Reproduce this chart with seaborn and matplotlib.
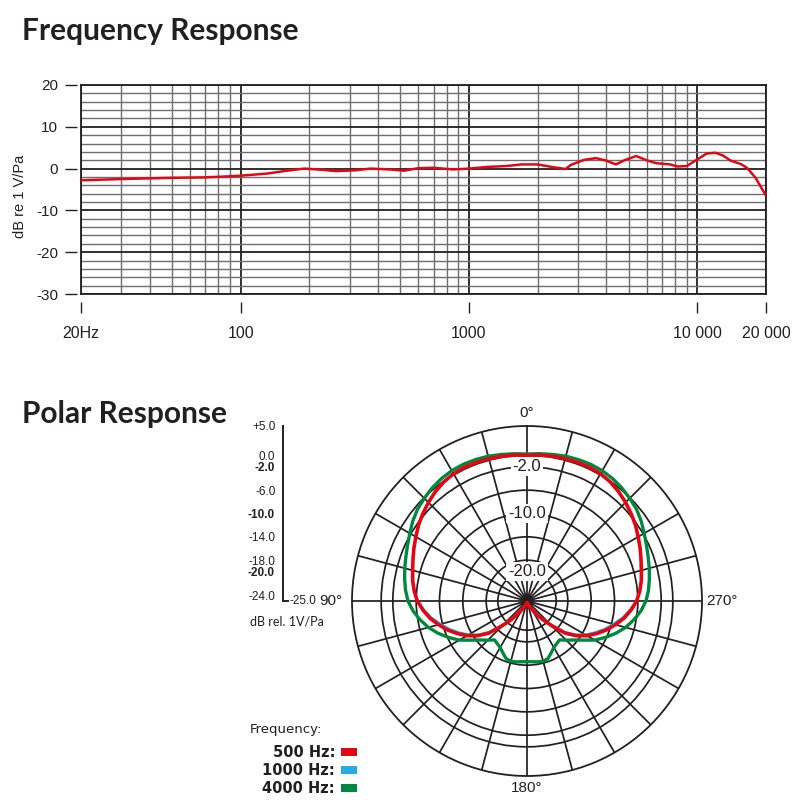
import numpy as np
import pandas as pd
import seaborn as sns
import matplotlib.pyplot as plt
from matplotlib.patches import Patch
from matplotlib.ticker import NullLocator

# ---- Frequency response ----
freq_hz = [20, 30, 50, 70, 85, 100, 130, 160, 190, 230, 260, 320, 370, 450, 520, 600, 700, 850,
           1000, 1200, 1450, 1700, 2000, 2300, 2650, 2800, 3200, 3600, 4000, 4400, 4800, 5400,
           6000, 6600, 7600, 8200, 9000, 10000, 11000, 12000, 13000, 14000, 15500, 16500,
           18000, 20000]
level_db = [-2.8, -2.5, -2.2, -2.1, -1.9, -1.7, -1.2, -0.5, 0.0, -0.3, -0.6, -0.4, 0.0, -0.2,
            -0.5, 0.1, 0.2, -0.2, 0.0, 0.4, 0.6, 1.0, 1.0, 0.4, -0.1, 0.9, 2.1, 2.5, 1.9, 1.0,
            2.0, 3.0, 2.0, 1.3, 1.0, 0.5, 0.6, 2.2, 3.6, 3.8, 3.1, 1.9, 1.1, 0.2, -2.2, -6.5]

freq_ticks = [20, 100, 1000, 10000, 20000]
freq_tick_labels = ["20Hz", "100", "1000", "10 000", "20 000"]
level_ticks = [20, 10, 0, -10, -20, -30]

# ---- Polar response, dB every 5 deg (0 deg on axis, counter-clockwise) ----
polar_angles = list(range(0, 361, 5))
resp_500 = [0.0, 0.1, 0.2, 0.25, 0.3, 0.3, 0.2, -0.1, -0.55, -1.1, -1.7, -2.3, -3.0, -3.6,
            -4.2, -4.7, -5.1, -5.6, -6.2, -7.1, -8.1, -9.3, -10.5, -11.8, -13.1, -14.6,
            -16.4, -19.0, -20.9, -22.4, -23.4, -24.0, -24.3, -24.5, -24.6, -24.7, -24.75,
            -24.7, -24.6, -24.5, -24.3, -24.0, -23.4, -22.4, -20.9, -19.0, -16.4, -14.6,
            -13.1, -11.8, -10.5, -9.3, -8.1, -7.1, -6.2, -5.6, -5.1, -4.7, -4.2, -3.6, -3.0,
            -2.3, -1.7, -1.1, -0.55, -0.1, 0.2, 0.3, 0.3, 0.25, 0.2, 0.1, 0.0]
resp_1000 = [0.0, 0.1, 0.2, 0.25, 0.3, 0.3, 0.2, -0.1, -0.55, -1.1, -1.7, -2.3, -3.0, -3.6,
             -4.2, -4.7, -5.1, -5.6, -6.2, -7.3, -8.4, -9.7, -10.9, -12.2, -13.5, -15.0,
             -16.9, -19.5, -21.3, -22.8, -23.7, -24.2, -24.5, -24.6, -24.7, -24.8, -24.8,
             -24.8, -24.7, -24.6, -24.5, -24.2, -23.7, -22.8, -21.3, -19.5, -16.9, -15.0,
             -13.5, -12.2, -10.9, -9.7, -8.4, -7.3, -6.2, -5.6, -5.1, -4.7, -4.2, -3.6, -3.0,
             -2.3, -1.7, -1.1, -0.55, -0.1, 0.2, 0.3, 0.3, 0.25, 0.2, 0.1, 0.0]
resp_4000 = [0.2, 0.35, 0.5, 0.7, 0.8, 0.85, 0.8, 0.6, 0.3, -0.1, -0.5, -1.1, -1.8, -2.4,
             -2.9, -3.3, -3.7, -4.1, -4.6, -5.4, -6.4, -7.5, -8.8, -10.2, -11.6, -13.3,
             -14.6, -15.5, -16.3, -16.1, -15.8, -15.2, -14.5, -14.3, -14.4, -14.55, -14.6,
             -14.55, -14.4, -14.3, -14.5, -15.2, -15.8, -16.1, -16.3, -15.5, -14.6, -13.3,
             -11.6, -10.2, -8.8, -7.5, -6.4, -5.4, -4.6, -4.1, -3.7, -3.3, -2.9, -2.4, -1.8,
             -1.1, -0.5, -0.1, 0.3, 0.6, 0.8, 0.85, 0.8, 0.7, 0.5, 0.35, 0.2]

series_labels = ["500 Hz:", "1000 Hz:", "4000 Hz:"]
series_colors = ["#e30613", "#29abe2", "#00893e"]
polar_rings = [0, -2, -6, -10, -14, -18, -20, -24]
angle_labels = ["0°", "90°", "180°", "270°"]
scale_bold = [-2, -10, -20]
scale_bold_labels = ["-2.0", "-10.0", "-20.0"]
scale_plain = [5, 0, -6, -14, -18, -24]
scale_plain_labels = ["+5.0", "0.0", "-6.0", "-14.0", "-18.0", "-24.0"]

INK = "#231f20"


def main():
    sns.set_theme(style="white")
    plt.rcParams["font.family"] = ["Liberation Sans", "DejaVu Sans"]
    plt.rcParams["text.color"] = INK
    plt.rcParams["axes.unicode_minus"] = False

    fig = plt.figure(figsize=(8, 8), dpi=100)
    W = H = 800.0

    # 1. Frequency response
    ax = fig.add_axes([81 / W, 1 - 294 / H, 685 / W, 209 / H])
    ax.set_xscale("log")
    fr = pd.DataFrame({"freq": freq_hz, "level": level_db})
    sns.lineplot(data=fr, x="freq", y="level", ax=ax, color=series_colors[0],
                 lw=1.8, estimator=None, sort=False, zorder=3)
    ax.set_xlim(20, 20000)
    ax.set_ylim(-30, 20)
    ax.set_xlabel("")
    ax.set_ylabel("")

    minor_x = [m * d for d in (10, 100, 1000) for m in range(2, 10) if 20 < m * d < 20000]
    minor_y = [v for v in range(-30, 21, 2) if v % 10 != 0]
    ax.set_xticks(freq_ticks)
    ax.set_xticks(minor_x, minor=True)
    ax.set_yticks(level_ticks)
    ax.set_yticks(minor_y, minor=True)
    ax.grid(which="major", color=INK, lw=1.3)
    ax.grid(which="minor", color="#6d6e71", lw=1.0)
    ax.tick_params(which="both", length=0, labelbottom=False, labelleft=False)
    for s in ax.spines.values():
        s.set_color(INK)
        s.set_linewidth(1.3)

    sx = ax.secondary_xaxis(-8 / 209)
    sx.set_xticks(freq_ticks, freq_tick_labels)
    sx.xaxis.set_minor_locator(NullLocator())
    sx.spines["bottom"].set_visible(False)
    sx.tick_params(length=8, width=1.0, color=INK, pad=9, labelsize=11.5, labelcolor=INK)

    sy = ax.secondary_yaxis(-4 / 685)
    sy.set_yticks(level_ticks)
    sy.yaxis.set_minor_locator(NullLocator())
    sy.spines["left"].set_visible(False)
    sy.tick_params(length=8.6, width=1.0, color=INK, pad=5, labelsize=11, labelcolor=INK)
    fig.text(20 / W, 1 - 196 / H, "dB re 1 V/Pa", rotation=90, ha="center", va="center",
             fontsize=10.5)

    # 2. Polar response
    pax = fig.add_axes([(527 - 175) / W, 1 - 776 / H, 350 / W, 350 / H], projection="polar")
    pax.set_theta_zero_location("N")
    pax.set_theta_direction(1)
    rad = np.deg2rad(polar_angles)
    for vals, col, lw in [(resp_4000, series_colors[2], 2.4),
                          (resp_1000, series_colors[1], 1.6),
                          (resp_500, series_colors[0], 2.6)]:
        sns.lineplot(x=rad, y=vals, ax=pax, color=col, lw=lw, estimator=None,
                     sort=False, zorder=4)
    pax.set_xlabel("")
    pax.set_ylabel("")
    pax.set_rlim(-25, 5)
    pax.set_rticks(polar_rings)
    pax.set_yticklabels([])
    pax.set_thetagrids(range(0, 360, 15), labels=[])
    pax.grid(True, color=INK, lw=1.25)
    pax.spines["polar"].set_color(INK)
    pax.spines["polar"].set_linewidth(1.3)
    offsets = [(0, 9.5), (-15, 0), (0, -8.6), (14.4, 0)]
    for ang, lab, off in zip((0, 90, 180, 270), angle_labels, offsets):
        pax.annotate(lab, xy=(np.deg2rad(ang), 5), xytext=off, textcoords="offset points",
                     ha="center", va="center", fontsize=11, annotation_clip=False)
    for v, lab in zip(scale_bold, scale_bold_labels):
        pax.text(0, v, lab, ha="center", va="center", fontsize=12, zorder=3,
                 bbox=dict(facecolor="white", edgecolor="none", pad=1.5))

    # 3. Level scale beside the polar plot
    sc = fig.add_axes([282.5 / W, 1 - 601 / H, 5 / W, 175 / H])
    sc.set_ylim(-25, 5)
    sc.set_xlim(0, 1)
    sc.set_facecolor("none")
    sc.spines["top"].set_visible(False)
    sc.spines["right"].set_visible(False)
    for s in ("left", "bottom"):
        sc.spines[s].set_color(INK)
        sc.spines[s].set_linewidth(1.4)
    sc.set_xticks([])
    sc.set_yticks(scale_bold, scale_bold_labels)
    sc.set_yticks(scale_plain, scale_plain_labels, minor=True)
    sc.tick_params(axis="y", which="major", direction="inout", length=8, width=1.4,
                   color=INK, labelsize=8.5, pad=1.5, labelcolor=INK)
    sc.tick_params(axis="y", which="minor", direction="out", length=3.6, width=1.2,
                   color=INK, labelsize=8.5, pad=1.5, labelcolor=INK)
    for t in sc.get_yticklabels():
        t.set_fontweight("bold")
    sc.annotate("-25.0", xy=(1, 0), xycoords="axes fraction", xytext=(1.5, 0),
                textcoords="offset points", ha="left", va="center", fontsize=8.5)
    fig.text(250 / W, 1 - 622 / H, "dB rel. 1V/Pa", ha="left", va="center",
             fontsize=9, family=["Lato", "DejaVu Sans"])

    # 4. Titles
    fig.text(22 / W, 1 - 40 / H, "Frequency Response", fontsize=21.5, fontweight="bold",
             family=["Lato", "DejaVu Sans"], va="baseline")
    fig.text(22 / W, 1 - 423 / H, "Polar Response", fontsize=21.5, fontweight="bold",
             family=["Lato", "DejaVu Sans"], va="baseline")

    # 5. Legend
    fig.text(250 / W, 1 - 730 / H, "Frequency:", ha="left", va="center", fontsize=9.5,
             family=["DejaVu Sans"])
    handles = [Patch(facecolor=c, edgecolor="none") for c in series_colors]
    fig.legend(handles, series_labels, markerfirst=False, frameon=False,
               loc="upper right", bbox_to_anchor=(357 / W, 1 - 745 / H),
               borderpad=0, borderaxespad=0,
               handlelength=1.1, handleheight=0.45, handletextpad=0.4,
               labelspacing=0.2,
               prop={"family": ["DejaVu Sans"], "size": 10.5, "weight": "bold"})

    fig.savefig("out.png", dpi=100, facecolor="white")
    plt.close(fig)


if __name__ == "__main__":
    main()
